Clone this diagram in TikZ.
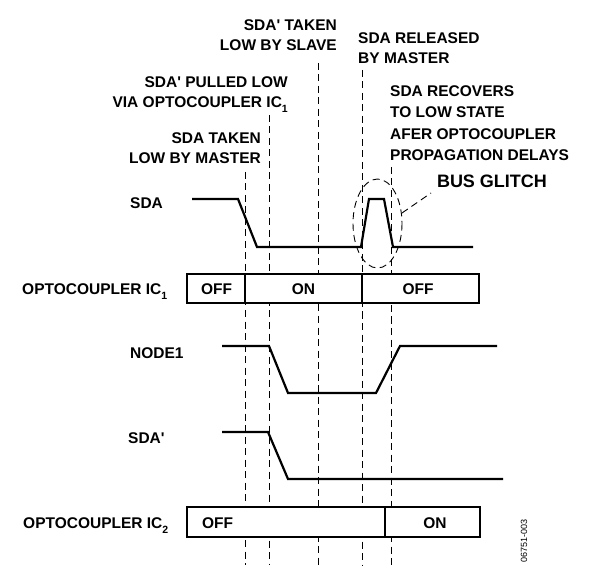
\documentclass[tikz,border=0pt]{standalone}
\usepackage{fontspec}
\setmainfont{Liberation Sans}
\newcommand\icsub[1]{\raisebox{-0.32em}{\fontsize{10.5}{10.5}\selectfont #1}}
\newcommand\apos{\textquotesingle}
\begin{document}
\begin{tikzpicture}[x=1pt,y=-1pt,
  lbl/.style={font=\bfseries\fontsize{15.5}{20.5}\selectfont, inner sep=0pt},
  lbl4/.style={font=\bfseries\fontsize{15.5}{21.3}\selectfont, inner sep=0pt},
  wave/.style={line width=2.2pt, line join=miter},
  guide/.style={line width=0.9pt, dash pattern=on 7pt off 4.5pt},
  statebox/.style={line width=1.6pt, fill=white}]
\useasboundingbox (0,0) rectangle (597,569);

% guide lines
\draw[guide] (245,172) -- (245,565);
\draw[guide] (269,115) -- (269,565);
\draw[guide] (318,63) -- (318,565);
\draw[guide] (362,70) -- (362,565);
\draw[guide] (391,167) -- (391,565);

% annotations
\node[lbl, align=right, anchor=north east] (t1) at (337,19.4) {SDA\apos\ TAKEN\\LOW BY SLAVE};
\node[lbl, align=right, anchor=north east] (t2) at (288,76.4) {SDA\apos\ PULLED LOW\\VIA OPTOCOUPLER IC\icsub{1}};
\node[lbl, align=right, anchor=north east] (t3) at (261,132.4) {SDA TAKEN\\LOW BY MASTER};
\node[lbl, align=left, anchor=north west] (t4) at (358,32.4) {SDA RELEASED\\BY MASTER};
\node[lbl4, align=left, anchor=north west] (t5) at (390,85.4) {SDA RECOVERS\\TO LOW STATE\\AFER OPTOCOUPLER\\PROPAGATION DELAYS};
\node[font=\bfseries\fontsize{18}{18}\selectfont, inner sep=0pt] (bg) at (492,181) {BUS GLITCH};

% SDA
\node[lbl, anchor=base west] (lsda) at (130,208.6) {SDA};
\draw[wave] (192,199) -- (238,199) -- (257,247) -- (361,247) -- (369,199) -- (384,199) -- (393,247) -- (473,247);
\draw[guide] (377.5,223.5) ellipse [x radius=24.5, y radius=44.5];
\coordinate (gl) at (402,213);
\draw[guide] (gl) -- (431,193);

% IC1
\node[lbl, anchor=base west] (lic1) at (22,294.6) {OPTOCOUPLER IC\icsub{1}};
\draw[statebox] (187,274) rectangle (479,303);
\draw[line width=1.6pt] (245,274) -- (245,303) (362,274) -- (362,303);
\node[lbl, anchor=base] (s1) at (216.5,294.6) {OFF};
\node[lbl, anchor=base] (s2) at (303.5,294.6) {ON};
\node[lbl, anchor=base] (s3) at (418,294.6) {OFF};

% NODE1
\node[lbl, anchor=base west] (lnode) at (130,358.6) {NODE1};
\draw[wave] (222,346) -- (269,346) -- (288,393) -- (376,393) -- (400,346) -- (497,346);

% SDA'
\node[lbl, anchor=base west] (lsdap) at (128,443.6) {SDA\apos};
\draw[wave] (222,432) -- (268,432) -- (288,479) -- (503,479);

% IC2
\node[lbl, anchor=base west] (lic2) at (23,528.6) {OPTOCOUPLER IC\icsub{2}};
\draw[statebox] (187,507) rectangle (480,537);
\draw[line width=1.6pt] (385,507) -- (385,537);
\node[lbl, anchor=base] (s4) at (217.5,528.6) {OFF};
\node[lbl, anchor=base] (s5) at (435,528.6) {ON};

\node[font=\fontsize{9}{9}\selectfont, rotate=90, inner sep=0pt] (code) at (524,541) {06751-003};
\end{tikzpicture}
\end{document}
